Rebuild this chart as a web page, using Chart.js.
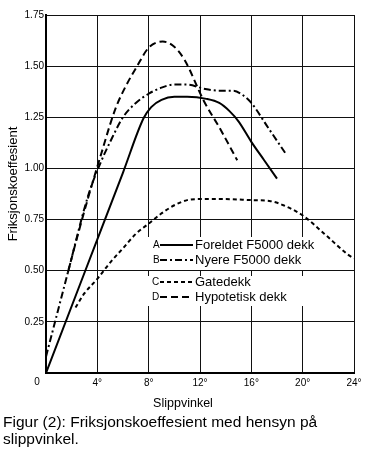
<!DOCTYPE html>
<html>
<head>
<meta charset="utf-8">
<script src="https://cdn.jsdelivr.net/npm/chart.js@4.4.1/dist/chart.umd.min.js"></script>
<style>
    html, body { margin: 0; padding: 0; background: #fff; }
    canvas { display: block; }
</style>
</head>
<body>
<canvas id="frictionChart" width="368" height="459"></canvas>
<script>
// Axis ticks
const xTickValues = [0, 4, 8, 12, 16, 20, 24];
const yTickValues = [0, 0.25, 0.5, 0.75, 1.0, 1.25, 1.5, 1.75];
const yTickLabels = ['', '0.25', '0.50', '0.75', '1.00', '1.25', '1.50', '1.75'];

// Series (slip angle in degrees, friction coefficient)
const seriesKeys = ['A', 'B', 'C', 'D'];
const seriesNames = ['Foreldet F5000 dekk', 'Nyere F5000 dekk', 'Gatedekk', 'Hypotetisk dekk'];

const aX = [0, 3, 6, 7.6, 8.2, 9, 10, 11, 12.5, 13.5, 14.3, 15, 16, 17, 18];
const aY = [0, 0.49, 0.98, 1.245, 1.30, 1.335, 1.35, 1.35, 1.34, 1.32, 1.28, 1.23, 1.13, 1.04, 0.95];

const bX = [0, 1.7, 3.3, 4.2, 5, 6, 7, 8, 9, 10, 11, 12.3, 13.5, 14.6, 15.3, 16, 17.3, 18.7];
const bY = [0.08, 0.49, 0.87, 1.02, 1.13, 1.25, 1.32, 1.365, 1.395, 1.41, 1.41, 1.39, 1.38, 1.38, 1.36, 1.32, 1.2, 1.07];

const cX = [2.3, 3, 4, 5, 6, 7, 8, 9, 10, 11, 12, 14, 16, 17.5, 18.5, 20, 21.7, 23.5, 24];
const cY = [0.32, 0.39, 0.46, 0.54, 0.61, 0.68, 0.73, 0.78, 0.82, 0.845, 0.85, 0.85, 0.845, 0.84, 0.82, 0.77, 0.68, 0.58, 0.56];

const dX = [1.7, 2.5, 3.3, 4.2, 5.4, 6.2, 7.1, 8, 9.1, 9.9, 10.8, 12.3, 13.6, 14.9];
const dY = [0.49, 0.68, 0.86, 1.05, 1.29, 1.40, 1.50, 1.59, 1.62, 1.60, 1.53, 1.33, 1.19, 1.04];

const dashes = [[], [7, 3, 2, 3], [4, 3], [7, 4]];

function toPoints(xs, ys) {
    return xs.map((x, i) => ({ x: x, y: ys[i] }));
}

const FONT = '"Liberation Sans", Arial, sans-serif';

// Legend, titles and caption
const textPlugin = {
    id: 'textPlugin',
    afterDraw(chart) {
        const ctx = chart.ctx;
        ctx.save();

        // legend backgrounds (keep the 0.50 gridline visible)
        ctx.fillStyle = '#fff';
        ctx.fillRect(148, 237, 170, 33);
        ctx.fillRect(148, 276, 170, 30);

        const rowsY = [245, 260, 282, 297];
        seriesKeys.forEach((k, i) => {
            const y = rowsY[i];
            ctx.fillStyle = '#000';
            ctx.font = '10px ' + FONT;
            ctx.textAlign = 'left';
            ctx.textBaseline = 'middle';
            ctx.fillText(k, i < 2 ? 153 : 152, y);
            ctx.strokeStyle = '#000';
            ctx.lineWidth = 2;
            ctx.setLineDash(dashes[i]);
            ctx.beginPath();
            ctx.moveTo(160, y);
            ctx.lineTo(193, y);
            ctx.stroke();
            ctx.setLineDash([]);
            ctx.font = '13px ' + FONT;
            ctx.fillText(seriesNames[i], 195, y);
        });

        // zero label at the corner
        ctx.fillStyle = '#000';
        ctx.font = '10px ' + FONT;
        ctx.textAlign = 'center';
        ctx.fillText('0', 37, 382);

        // y axis title
        ctx.save();
        ctx.translate(13, 184);
        ctx.rotate(-Math.PI / 2);
        ctx.font = '13px ' + FONT;
        ctx.textAlign = 'center';
        ctx.textBaseline = 'middle';
        ctx.fillText('Friksjonskoeffesient', 0, 0);
        ctx.restore();

        // x axis title
        ctx.font = '12.5px ' + FONT;
        ctx.textAlign = 'center';
        ctx.textBaseline = 'alphabetic';
        ctx.fillText('Slippvinkel', 183, 407);

        // caption
        ctx.font = '15.5px ' + FONT;
        ctx.textAlign = 'left';
        ctx.fillText('Figur (2): Friksjonskoeffesient med hensyn på', 3, 427);
        ctx.fillText('slippvinkel.', 3, 444);
        ctx.restore();
    }
};

const allX = [aX, bX, cX, dX];
const allY = [aY, bY, cY, dY];

new Chart(document.getElementById('frictionChart'), {
    type: 'line',
    data: {
        datasets: seriesKeys.map((k, i) => ({
            label: seriesNames[i],
            data: toPoints(allX[i], allY[i]),
            borderColor: '#000',
            borderWidth: 2,
            borderDash: dashes[i],
            pointRadius: 0,
            fill: false,
            cubicInterpolationMode: 'monotone'
        }))
    },
    options: {
        responsive: false,
        animation: false,
        devicePixelRatio: 1,
        layout: { padding: { left: 0, top: 15, right: 14, bottom: 66 } },
        plugins: { legend: { display: false }, tooltip: { enabled: false } },
        scales: {
            x: {
                type: 'linear',
                min: 0,
                max: 24,
                afterFit(scale) { scale.height = 20; },
                afterBuildTicks(scale) { scale.ticks = xTickValues.map(v => ({ value: v })); },
                grid: { color: '#111', lineWidth: 1, drawTicks: false },
                border: { color: '#000', width: 2 },
                ticks: {
                    color: '#000',
                    font: { family: FONT, size: 10 },
                    padding: 4,
                    maxRotation: 0,
                    callback: v => v === 0 ? '' : v + '°'
                }
            },
            y: {
                min: 0,
                max: 1.75,
                afterFit(scale) { scale.width = 46; },
                afterBuildTicks(scale) { scale.ticks = yTickValues.map(v => ({ value: v })); },
                grid: { color: '#111', lineWidth: 1, drawTicks: false },
                border: { color: '#000', width: 2 },
                ticks: {
                    color: '#000',
                    font: { family: FONT, size: 10 },
                    padding: 2,
                    callback: (v) => yTickLabels[yTickValues.indexOf(v)] ?? ''
                }
            }
        }
    },
    plugins: [textPlugin]
});
</script>
</body>
</html>
